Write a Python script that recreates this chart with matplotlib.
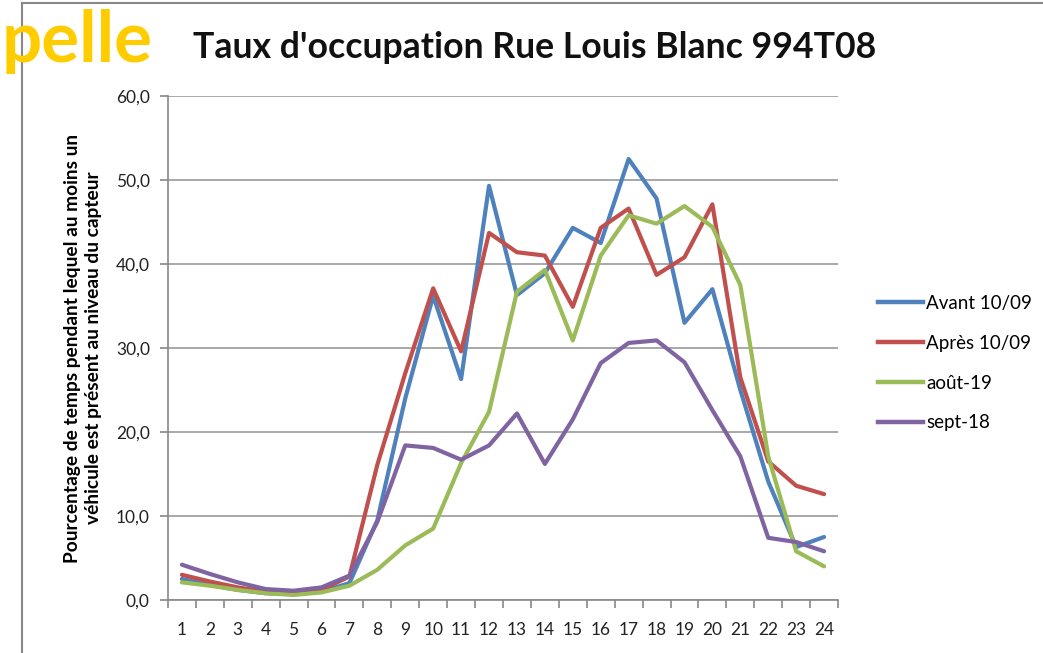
import matplotlib.pyplot as plt
import matplotlib.ticker as mticker
from matplotlib.lines import Line2D

plt.rcParams['font.family'] = ['Lato', 'DejaVu Sans']

heures = list(range(1, 25))
avant = [2.5, 1.8, 1.2, 0.8, 0.7, 1.0, 2.0, 9.5, 24.0, 36.2, 26.3, 49.3, 36.3, 38.9,
         44.3, 42.5, 52.5, 47.8, 33.0, 37.0, 25.0, 14.1, 6.3, 7.5]
apres = [3.0, 2.2, 1.5, 1.0, 0.8, 1.2, 2.8, 16.1, 27.0, 37.1, 29.6, 43.7, 41.4, 41.0,
         34.9, 44.3, 46.6, 38.7, 40.8, 47.1, 26.5, 16.5, 13.6, 12.6]
aout19 = [2.1, 1.7, 1.2, 0.8, 0.6, 0.9, 1.7, 3.6, 6.5, 8.5, 16.3, 22.4, 36.7, 39.3,
          30.9, 41.0, 45.8, 44.8, 46.9, 44.4, 37.5, 17.1, 5.8, 4.0]
sept18 = [4.2, 3.1, 2.1, 1.3, 1.1, 1.5, 2.9, 9.3, 18.4, 18.1, 16.7, 18.4, 22.2, 16.2,
          21.5, 28.2, 30.6, 30.9, 28.3, 22.6, 17.1, 7.4, 6.9, 5.8]

series = [("Avant 10/09", avant, "#4F81BD"),
          ("Après 10/09", apres, "#C0504D"),
          ("août-19", aout19, "#9BBB59"),
          ("sept-18", sept18, "#8064A2")]

fig = plt.figure(figsize=(10.43, 6.53), dpi=100)
ax = fig.add_axes([0.161, 0.0812, 0.6425, 0.7718])

for label, vals, col in series:
    ax.plot(heures, vals, color=col, lw=3.0, label=label, solid_capstyle='round')

ax.set_xlim(0.5, 24.5)
ax.set_ylim(0, 60)
ax.yaxis.set_major_locator(mticker.MultipleLocator(10))
ax.yaxis.set_major_formatter(mticker.FuncFormatter(lambda v, p: f"{v:.1f}".replace('.', ',')))
ax.set_xticks([h + 0.5 for h in range(0, 25)])
ax.set_xticklabels([])
ax.set_xticks(heures, minor=True)
ax.set_xticklabels([str(h) for h in heures], minor=True)
ax.tick_params(axis='x', which='minor', length=0, labelsize=12.5, pad=16, colors='#222222')
ax.tick_params(axis='x', which='major', length=6, color='#888888', width=1.2)
ax.tick_params(axis='y', length=6, color='#888888', width=1.2, labelsize=12.5,
               labelcolor='#222222', pad=7)

ax.grid(axis='y', color='#999999', lw=1.2)
ax.set_axisbelow(True)
for s in ['top', 'right']:
    ax.spines[s].set_visible(False)
for s in ['left', 'bottom']:
    ax.spines[s].set_color('#888888')
    ax.spines[s].set_linewidth(1.2)

ax.set_ylabel("Pourcentage de temps pendant lequel au moins un\n"
              "véhicule est présent au niveau du capteur",
              fontsize=13.8, fontweight='bold', labelpad=10, linespacing=1.25)

handles = [Line2D([0], [0], color=c, lw=3.2) for _, _, c in series]
fig.legend(handles, [s[0] for s in series], loc='center left',
           bbox_to_anchor=(0.826, 0.444), frameon=False, fontsize=13.5,
           handlelength=2.4, handletextpad=0.15, labelspacing=1.22)

fig.text(0.185, 0.928, "Taux d'occupation Rue Louis Blanc 994T08", fontsize=25.7,
         fontweight='bold', va='center', ha='left', color='#111111')
fig.text(0.002, 0.937, "pelle", fontsize=51, fontweight='bold', color='#FFCC00',
         va='center', ha='left')

# cadre gris
fig.add_artist(Line2D([0.021, 0.021], [0, 0.995], color='#888888', lw=1.5,
                      transform=fig.transFigure))
fig.add_artist(Line2D([0.021, 1.0], [0.995, 0.995], color='#888888', lw=1.5,
                      transform=fig.transFigure))

fig.savefig("out.png", dpi=100)
